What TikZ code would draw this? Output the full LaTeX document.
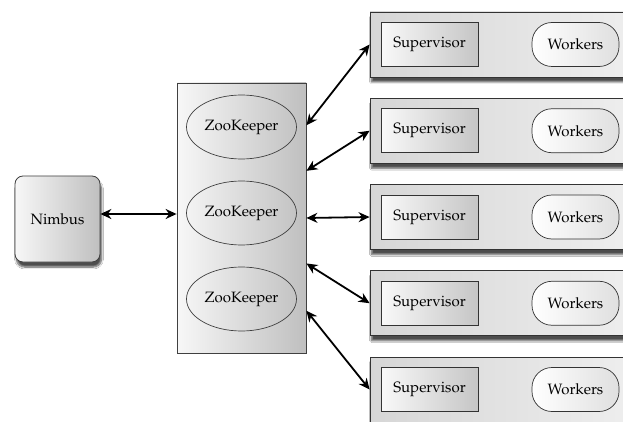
\documentclass[tikz,border=0pt]{standalone}
\usepackage[T1]{fontenc}
\usepackage{mathpazo}
\usetikzlibrary{arrows.meta,shapes.geometric,shadows.blur}
\tikzset{
  shadebox/.style={draw=black!75, line width=0.8pt, left color=gray!6, right color=gray!50},
  master/.style={shadebox, rounded corners=8pt, minimum width=85pt, minimum height=86pt,
    blur shadow={shadow xshift=1.5pt, shadow yshift=-5pt, shadow blur steps=8, shadow opacity=70}},
  keeper/.style={ellipse, draw=black!75, line width=0.7pt, minimum width=110pt, minimum height=64pt, inner sep=0pt},
  rowbox/.style={draw=black!80, line width=0.8pt, left color=gray!32, right color=gray!12,
    minimum width=280pt, minimum height=65pt,
    blur shadow={shadow xshift=1.5pt, shadow yshift=-5pt, shadow blur steps=8, shadow opacity=70}},
  supbox/.style={draw=black!80, line width=0.7pt, left color=gray!5, right color=gray!45,
    minimum width=97pt, minimum height=44pt, inner sep=0pt},
  workbox/.style={draw=black!80, line width=0.7pt, rounded corners=20pt, left color=white, right color=gray!25,
    minimum width=87pt, minimum height=44pt, inner sep=0pt},
  link/.style={{Stealth[length=11pt,width=10pt]}-{Stealth[length=11pt,width=10pt]}, line width=1.8pt}
}
\begin{document}
\begin{tikzpicture}[x=1pt,y=-1pt,font=\fontsize{15}{17}\selectfont]
  \clip (0,0) rectangle (623,422);
  \fill[white] (0,0) rectangle (623,422);
  % master node
  \node[master] (nimbus) at (57.5,219) {Nimbus};
  % zookeeper cluster
  \node[shadebox, minimum width=129pt, minimum height=270pt] (zoo) at (241.5,218) {};
  \foreach \i/\y in {1/127,2/213,3/299}
    \node[keeper] (zk\i) at (241.5,\y) {ZooKeeper};
  % worker machines
  \foreach \i in {1,...,5} {
    \pgfmathsetmacro\yrow{44.5+86.25*(\i-1)}
    \node[rowbox] (row\i) at (510,\yrow) {};
    \node[supbox] (sup\i) at (429.5,\yrow) {Supervisor};
    \node[workbox] (work\i) at (575.5,\yrow) {Workers};
  }
  \draw[link] ([yshift=5pt]nimbus.east) -- ([yshift=5pt]nimbus.east -| zoo.west);
  \foreach \i/\a in {1/55,2/36,3/0,4/-35,5/-55}
    \draw[link] (zoo.\a) -- (row\i.west);
\end{tikzpicture}
\end{document}
